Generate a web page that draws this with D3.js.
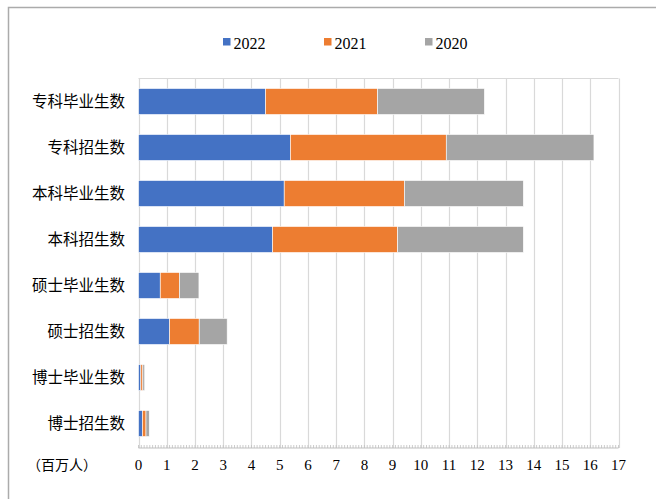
<!DOCTYPE html>
<html>
<head>
<meta charset="utf-8">
<script src="https://cdn.jsdelivr.net/npm/d3@7"></script>
<style>
   body { margin: 0; background: #fff; }
   svg { display: block; }
</style>
</head>
<body>
<div id="chart"></div>
<script>

// CATEGORIES (TOP TO BOTTOM)
var categories = ['专科毕业生数', '专科招生数', '本科毕业生数', '本科招生数', '硕士毕业生数', '硕士招生数', '博士毕业生数', '博士招生数'];

// SERIES VALUES (MILLIONS)
var years = ['2022', '2021', '2020'];
var values2022 = [4.50, 5.38, 5.16, 4.75, 0.77, 1.10, 0.082, 0.139];
var values2021 = [3.97, 5.52, 4.26, 4.43, 0.68, 1.05, 0.072, 0.126];
var values2020 = [3.78, 5.23, 4.21, 4.45, 0.69, 0.99, 0.066, 0.116];

// TICK LABELS
var ticks = d3.range(0, 18);
var unitLabel = '（百万人）';

// SETTINGS
var settings = {
   width: 656,
   height: 499,
   colors: { '2022': '#4472c4', '2021': '#ed7d31', '2020': '#a5a5a5' },
   grid: '#d9d9d9',
   num: "'Liberation Serif', 'Times New Roman', serif",
   cjk: "'Noto Sans CJK SC', sans-serif"
};

// BUILD ROWS FOR STACKING
var rows = categories.map((c, i) => {
   return { cat: c, '2022': values2022[i], '2021': values2021[i], '2020': values2020[i] };
});
var stack = d3.stack().keys(years)(rows);

// CANVAS
var svg = d3.select('#chart').append('svg')
   .attr('width', settings.width)
   .attr('height', settings.height)

// OUTER FRAME
svg.append('rect')
   .attr('x', 8.5).attr('y', 7.5)
   .attr('width', 700).attr('height', 600)
   .attr('fill', 'none')
   .attr('stroke', '#ababab')
   .attr('stroke-width', 1.5)

// SCALES
var xScale = d3.scaleLinear()
   .domain([0, 17])
   .range([138.5, 618.5])

var yScale = d3.scaleBand()
   .domain(categories)
   .range([78.5, 446.5])
   .paddingInner(0.435)
   .paddingOuter(0.2175)

// GRIDLINES
svg.append('g').selectAll('line')
   .data(ticks)
   .enter().append('line')
      .attr('x1', d => Math.round(xScale(d)) + 0.5)
      .attr('x2', d => Math.round(xScale(d)) + 0.5)
      .attr('y1', 78.5)
      .attr('y2', 448)
      .attr('stroke', settings.grid)
      .attr('stroke-width', 1.2)

// TOP BORDER OF PLOT
svg.append('line')
   .attr('x1', xScale(0)).attr('x2', xScale(17))
   .attr('y1', 78.5).attr('y2', 78.5)
   .attr('stroke', settings.grid)
   .attr('stroke-width', 1.2)

// BARS
stack.forEach(layer => {
   svg.append('g').selectAll('rect')
      .data(layer)
      .enter().append('rect')
         .attr('x', d => xScale(d[0]))
         .attr('y', d => yScale(d.data.cat))
         .attr('width', d => xScale(d[1]) - xScale(d[0]))
         .attr('height', yScale.bandwidth())
         .attr('fill', settings.colors[layer.key])
         .attr('stroke', '#ffffff')
         .attr('stroke-width', 0.6)
});

// X AXIS WITH MINOR TICKS
var axisY = 448;
var axis = svg.append('g')
axis.append('line')
   .attr('x1', xScale(0)).attr('x2', xScale(17))
   .attr('y1', axisY).attr('y2', axisY)
   .attr('stroke', '#bfbfbf')
   .attr('stroke-width', 1.2)

axis.selectAll('line.minor')
   .data(d3.range(0, 171).map(i => i / 10))
   .enter().append('line')
      .attr('class', 'minor')
      .attr('x1', d => xScale(d)).attr('x2', d => xScale(d))
      .attr('y1', axisY).attr('y2', axisY - 3)
      .attr('stroke', '#bfbfbf')
      .attr('stroke-width', 0.8)

// TICK LABELS
axis.selectAll('text')
   .data(ticks)
   .enter().append('text')
      .attr('x', d => xScale(d))
      .attr('y', 470)
      .attr('text-anchor', 'middle')
      .style('font-family', settings.num)
      .style('font-size', '15px')
      .attr('fill', '#000')
      .text(d => d)

// UNIT LABEL
svg.append('text')
   .attr('x', 62)
   .attr('y', 470)
   .attr('text-anchor', 'middle')
   .style('font-family', settings.cjk)
   .style('font-size', '14px')
   .attr('fill', '#000')
   .text(unitLabel)

// CATEGORY LABELS
svg.append('g').selectAll('text')
   .data(categories)
   .enter().append('text')
      .attr('x', 125)
      .attr('y', d => yScale(d) + yScale.bandwidth() / 2 + 5)
      .attr('text-anchor', 'end')
      .style('font-family', settings.cjk)
      .style('font-size', '15.5px')
      .attr('fill', '#000')
      .text(d => d)

// LEGEND
var legendX = [223, 324, 425];
var legend = svg.append('g').selectAll('g')
   .data(years)
   .enter().append('g')
      .attr('transform', (d, i) => 'translate(' + legendX[i] + ',38)')

legend.append('rect')
   .attr('width', 7.5).attr('height', 7.5)
   .attr('fill', d => settings.colors[d])

legend.append('text')
   .attr('x', 10.5)
   .attr('y', 10.5)
   .style('font-family', settings.num)
   .style('font-size', '16px')
   .attr('fill', '#000')
   .text(d => d)

</script>
</body>
</html>
